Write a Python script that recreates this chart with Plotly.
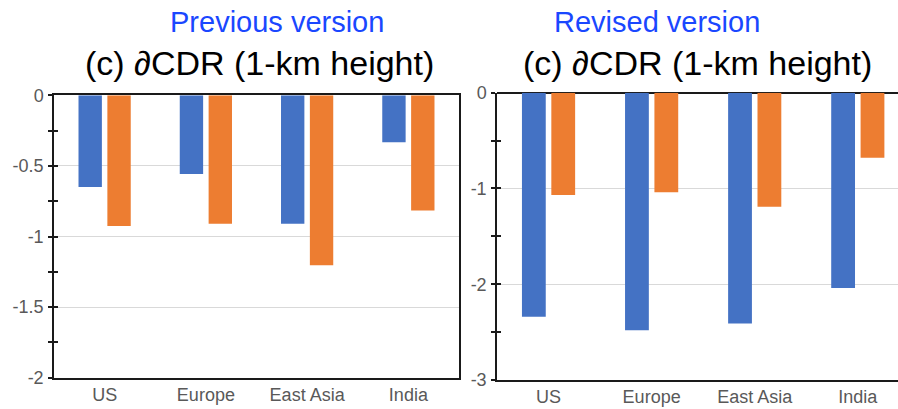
import plotly.graph_objects as go

categories = ["US", "Europe", "East Asia", "India"]
prev_blue = [-0.65, -0.557, -0.91, -0.333]
prev_orange = [-0.925, -0.91, -1.204, -0.815]
rev_blue = [-2.34, -2.48, -2.41, -2.04]
rev_orange = [-1.068, -1.04, -1.19, -0.68]

left_ticks = [0, -0.5, -1, -1.5, -2]
left_ticklabels = ["0", "-0.5", "-1", "-1.5", "-2"]
right_ticks = [0, -1, -2, -3]
right_ticklabels = ["0", "-1", "-2", "-3"]

BLUE = "#4472C4"
ORANGE = "#ED7D31"
W, H = 898, 409
FONT = "Liberation Sans, Arial, sans-serif"
TICKC = "#595959"
LINEC = "#1a1a1a"

fig = go.Figure()
fig.add_trace(go.Bar(x=categories, y=prev_blue, marker=dict(color=BLUE, line=dict(width=0)),
                     xaxis="x", yaxis="y", offsetgroup="a", showlegend=False))
fig.add_trace(go.Bar(x=categories, y=prev_orange, marker=dict(color=ORANGE, line=dict(width=0)),
                     xaxis="x", yaxis="y", offsetgroup="b", showlegend=False))
fig.add_trace(go.Bar(x=categories, y=rev_blue, marker=dict(color=BLUE, line=dict(width=0)),
                     xaxis="x2", yaxis="y2", offsetgroup="a", showlegend=False))
fig.add_trace(go.Bar(x=categories, y=rev_orange, marker=dict(color=ORANGE, line=dict(width=0)),
                     xaxis="x2", yaxis="y2", offsetgroup="b", showlegend=False))
# empty helper traces so the overlaid tick-only axes are drawn (ticks crossing the axis line)
fig.add_trace(go.Scatter(x=[None], y=[None], xaxis="x", yaxis="y3", showlegend=False, hoverinfo="skip"))
fig.add_trace(go.Scatter(x=[None], y=[None], xaxis="x2", yaxis="y4", showlegend=False, hoverinfo="skip"))

def px_x(p):
    return p / W

def px_y(p):
    return 1 - p / H

tickfont = dict(family=FONT, size=18, color=TICKC)

fig.update_layout(
    width=W, height=H,
    margin=dict(l=0, r=0, t=0, b=0, pad=0, autoexpand=False),
    paper_bgcolor="white", plot_bgcolor="white",
    bargap=0.43, bargroupgap=0.19,
    barmode="group",
    xaxis=dict(domain=[px_x(54), px_x(459)], anchor="y", mirror=True,
               range=[-0.5, 3.5], ticks="", showgrid=False, zeroline=False,
               showline=True, linecolor=LINEC, linewidth=1.5, automargin=False,
               tickfont=tickfont, ticklabelstandoff=0),
    yaxis=dict(domain=[px_y(377.7), px_y(95.3)], anchor="x", mirror=True,
               range=[-2, 0], tickvals=left_ticks, ticktext=left_ticklabels,
               ticks="outside", ticklen=4, tickcolor=LINEC, tickwidth=1.5,
               minor=dict(dtick=0.25, ticks="outside", ticklen=4, tickcolor=LINEC, tickwidth=1.5, showgrid=False),
               showgrid=True, gridcolor="#d9d9d9", gridwidth=1, zeroline=False,
               showline=True, linecolor=LINEC, linewidth=1.5, automargin=False,
               tickfont=tickfont, ticklabelstandoff=1),
    yaxis3=dict(domain=[px_y(377.7), px_y(95.3)], anchor="x", overlaying="y",
                range=[-2, 0], tickvals=left_ticks, showticklabels=False,
                ticks="inside", ticklen=4, tickcolor=LINEC, tickwidth=1.5,
                minor=dict(dtick=0.25, ticks="inside", ticklen=4, tickcolor=LINEC, tickwidth=1.5, showgrid=False),
                showgrid=False, zeroline=False, showline=False, automargin=False),
    xaxis2=dict(domain=[px_x(497), 1.0], anchor="y2", mirror=False,
                range=[-0.5, 3.39], ticks="", showgrid=False, zeroline=False,
                showline=True, linecolor=LINEC, linewidth=1.5, automargin=False,
                tickfont=tickfont, ticklabelstandoff=0),
    yaxis2=dict(domain=[px_y(380), px_y(92.7)], anchor="x2",
                range=[-3, 0], tickvals=right_ticks, ticktext=right_ticklabels,
                ticks="outside", ticklen=4, tickcolor=LINEC, tickwidth=1.5,
                minor=dict(dtick=0.5, ticks="outside", ticklen=4, tickcolor=LINEC, tickwidth=1.5, showgrid=False),
                showgrid=True, gridcolor="#d9d9d9", gridwidth=1, zeroline=True,
                zerolinecolor=LINEC, zerolinewidth=1.5,
                showline=True, linecolor=LINEC, linewidth=1.5, automargin=False,
                tickfont=tickfont, ticklabelstandoff=1),
    yaxis4=dict(domain=[px_y(380), px_y(92.7)], anchor="x2", overlaying="y2",
                range=[-3, 0], tickvals=right_ticks, showticklabels=False,
                ticks="inside", ticklen=4, tickcolor=LINEC, tickwidth=1.5,
                minor=dict(dtick=0.5, ticks="inside", ticklen=4, tickcolor=LINEC, tickwidth=1.5, showgrid=False),
                showgrid=False, zeroline=False, showline=False, automargin=False),
    annotations=[
        dict(text="Previous version", x=px_x(277), y=px_y(22), xref="paper", yref="paper",
             xanchor="center", yanchor="middle", showarrow=False,
             font=dict(family=FONT, size=29, color="#1a47ff")),
        dict(text="(c) ∂CDR (1-km height)", x=px_x(259), y=px_y(63), xref="paper", yref="paper",
             xanchor="center", yanchor="middle", showarrow=False,
             font=dict(family=FONT, size=34, color="black")),
        dict(text="Revised version", x=px_x(657), y=px_y(22), xref="paper", yref="paper",
             xanchor="center", yanchor="middle", showarrow=False,
             font=dict(family=FONT, size=29, color="#1a47ff")),
        dict(text="(c) ∂CDR (1-km height)", x=px_x(697), y=px_y(63), xref="paper", yref="paper",
             xanchor="center", yanchor="middle", showarrow=False,
             font=dict(family=FONT, size=34, color="black")),
    ],
)

fig.write_html("out.html", config={"displayModeBar": False},
               post_script="document.body.style.margin='0';document.body.style.overflow='hidden';")
